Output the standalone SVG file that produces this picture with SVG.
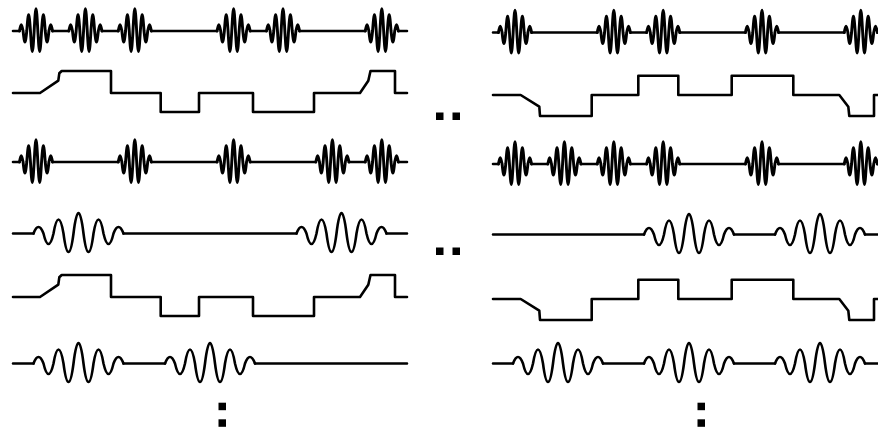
<svg xmlns="http://www.w3.org/2000/svg" width="878" height="428" viewBox="0 0 878 428">
  <style>
    .w{fill:none;stroke:#000;stroke-width:2.6;stroke-linecap:round;stroke-linejoin:round}
    .f{stroke-width:2.9}
    .dot{fill:#000;stroke:none}
  </style>
  <defs>
    <!-- narrow-band pulse: nine half-cycles under a bell envelope, centred at 0 -->
    <path id="fast" d="M-16.6,0c1.57,-8.4 2.12,-8.4 3.69,0c1.57,14.7 2.12,14.7 3.69,0c1.57,-21.6 2.12,-21.6 3.69,0c1.57,27.4 2.12,27.4 3.69,0c1.57,-29.6 2.12,-29.6 3.69,0c1.57,27.4 2.12,27.4 3.69,0c1.57,-21.6 2.12,-21.6 3.69,0c1.57,14.7 2.12,14.7 3.69,0c1.57,-8.4 2.12,-8.4 3.69,0"/>
    <!-- slow pulse: same envelope, longer period, rounder crests -->
    <path id="slow" d="M-45,0c3.2,-8.67 6.8,-8.67 10,0c3.2,14 6.8,14 10,0c3.2,-18.67 6.8,-18.67 10,0c3.2,24.67 6.8,24.67 10,0c3.2,-27.33 6.8,-27.33 10,0c3.2,24.67 6.8,24.67 10,0c3.2,-18.67 6.8,-18.67 10,0c3.2,14 6.8,14 10,0c3.2,-8.67 6.8,-8.67 10,0"/>
    <!-- three-level staircase traces -->
    <path id="levL" d="M13,93H40L58.3,80.7L59.3,73.3L61.7,71H111V93H160.7V112H199V93H253V112H314V93H360L368.3,80.7L370.5,71H395V93H407"/>
    <path id="levR" d="M493,95H520.7L539.3,106.7L540,116H591.7V95H638.3V75.7H678.3V95H731.7V75.7H793.3V95H839.3L848.3,106.7L849.3,116H874V95H880"/>
  </defs>

  <g id="left-panel" class="w">
    <g id="L-row1" transform="translate(0,31)">
      <path d="M13,0H19.6M52.4,0H69M101.8,0H118.4M151.2,0H217.2M250,0H266.6M299.4,0H365.4M398.2,0H407"/>
      <g class="f">
        <use href="#fast" x="36"/><use href="#fast" x="85.4"/><use href="#fast" x="134.8"/>
        <use href="#fast" x="233.6"/><use href="#fast" x="283"/><use href="#fast" x="381.8"/>
      </g>
    </g>
    <g id="L-row2"><use href="#levL"/></g>
    <g id="L-row3" transform="translate(0,162)">
      <path d="M13,0H19.6M52.4,0H118.4M151.2,0H217.2M250,0H316M348.8,0H365.4M398.2,0H407"/>
      <g class="f">
        <use href="#fast" x="36"/><use href="#fast" x="134.8"/><use href="#fast" x="233.6"/>
        <use href="#fast" x="332.4"/><use href="#fast" x="381.8"/>
      </g>
    </g>
    <g id="L-row4" transform="translate(0,233.5)">
      <path d="M13,0H33.5M123.5,0H296.5M386.5,0H407"/>
      <use href="#slow" x="78.5"/><use href="#slow" x="341.5"/>
    </g>
    <g id="L-row5" transform="translate(0,204)"><use href="#levL"/></g>
    <g id="L-row6" transform="translate(0,363.5)">
      <path d="M13,0H33.5M123.5,0H165M255,0H407"/>
      <use href="#slow" x="78.5"/><use href="#slow" x="210"/>
    </g>
  </g>

  <g id="right-panel" class="w">
    <g id="R-row1" transform="translate(0,32.5)">
      <path d="M493,0H498.6M531.4,0H597.4M630.2,0H646.8M679.6,0H745.6M778.4,0H844.4M877.2,0H880"/>
      <g class="f">
        <use href="#fast" x="515"/><use href="#fast" x="613.8"/><use href="#fast" x="663.2"/>
        <use href="#fast" x="762"/><use href="#fast" x="860.8"/>
      </g>
    </g>
    <g id="R-row2"><use href="#levR"/></g>
    <g id="R-row3" transform="translate(0,164)">
      <path d="M493,0H498.6M531.4,0H548M580.8,0H597.4M630.2,0H646.8M679.6,0H745.6M778.4,0H844.4M877.2,0H880"/>
      <g class="f">
        <use href="#fast" x="515"/><use href="#fast" x="564.4"/><use href="#fast" x="613.8"/>
        <use href="#fast" x="663.2"/><use href="#fast" x="762"/><use href="#fast" x="860.8"/>
      </g>
    </g>
    <g id="R-row4" transform="translate(0,234.5)">
      <path d="M493,0H644M734,0H775M865,0H880"/>
      <use href="#slow" x="689"/><use href="#slow" x="820"/>
    </g>
    <g id="R-row5" transform="translate(0,204)"><use href="#levR"/></g>
    <g id="R-row6" transform="translate(0,363.5)">
      <path d="M493,0H513M603,0H644M734,0H775M865,0H880"/>
      <use href="#slow" x="558"/><use href="#slow" x="689"/><use href="#slow" x="820"/>
    </g>
  </g>

  <!-- continuation marks -->
  <g id="ellipsis">
    <rect class="dot" x="436" y="112.5" width="7.5" height="7.5"/>
    <rect class="dot" x="452.5" y="112.5" width="7.5" height="7.5"/>
    <rect class="dot" x="436" y="247.5" width="7.5" height="7.5"/>
    <rect class="dot" x="452.5" y="247.5" width="7.5" height="7.5"/>
    <rect class="dot" x="218.5" y="402.7" width="7.5" height="7.5"/>
    <rect class="dot" x="218.5" y="419.3" width="7.5" height="7.5"/>
    <rect class="dot" x="697.5" y="402.7" width="7.5" height="7.5"/>
    <rect class="dot" x="697.5" y="419.3" width="7.5" height="7.5"/>
  </g>
</svg>
